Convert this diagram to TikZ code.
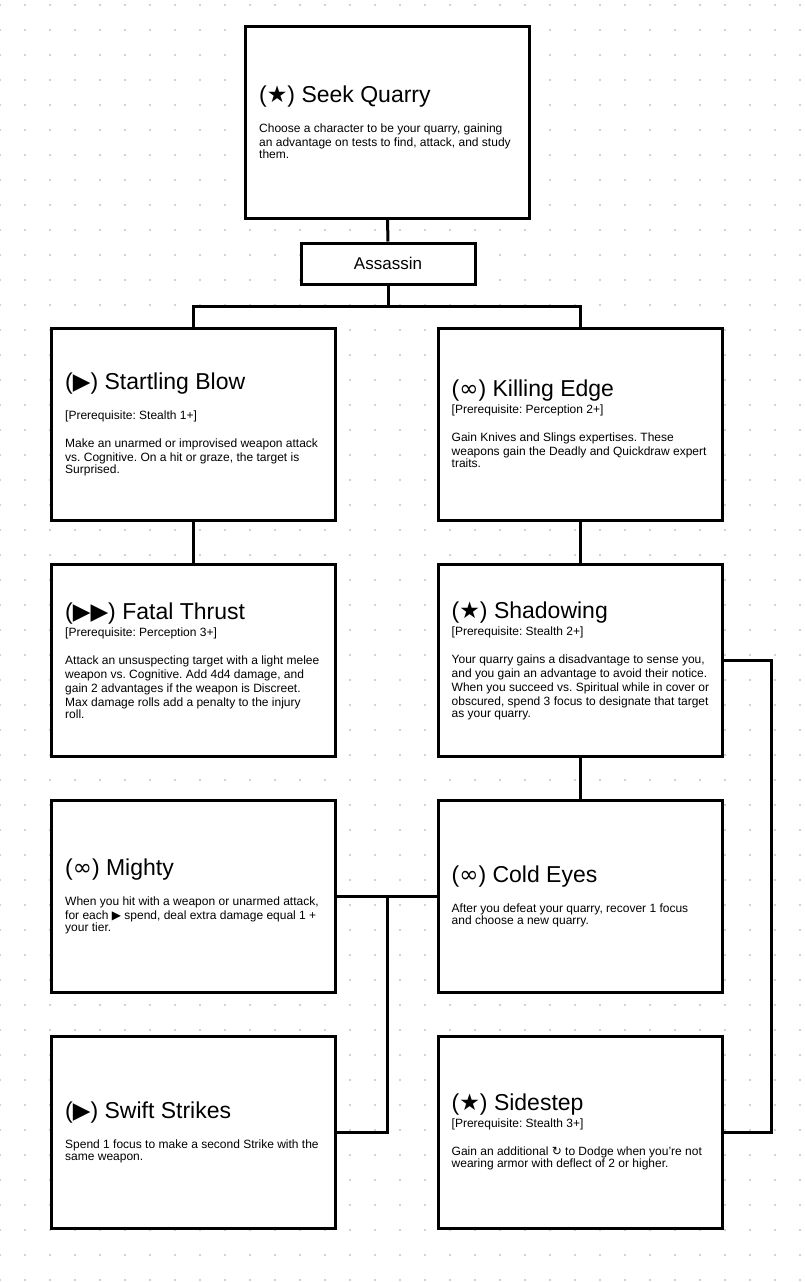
\documentclass[tikz,border=0pt]{standalone}
\usepackage{fontspec}
\setmainfont{Liberation Sans}
\newfontfamily\symf{DejaVu Sans}
\newcommand{\Star}{{\symf ★}}
\newcommand{\Act}{{\symf ▶}}
\newcommand{\Inf}{{\symf ∞}}
\newcommand{\Rx}{{\symf ↻}}
\newcommand{\ttl}[1]{{\fontsize{23}{27}\selectfont\spaceskip=0pt\xspaceskip=0pt #1\par}}
\newcommand{\bdy}{\fontsize{12}{14}\selectfont\spaceskip=0pt\xspaceskip=0pt\frenchspacing}
\setlength{\parskip}{0pt}
\begin{document}
\lineskiplimit=-100pt
\begin{tikzpicture}[x=1pt,y=-1pt,
  card/.style={draw=black, line width=3pt, fill=white, minimum width=284pt,
    minimum height=192pt, inner sep=0pt, anchor=center},
  txt/.style={text width=290pt, inner sep=0pt, align=left, anchor=west},
  tag/.style={draw=black, line width=3pt, fill=white, minimum width=174pt,
    minimum height=41pt, inner sep=0pt, font=\fontsize{17}{20}\selectfont},
  link/.style={draw=black, line width=3pt},
  dotc/.style={fill=black!24}]
\fill[white] (0,0) rectangle (804,1282);
\useasboundingbox (0,0) rectangle (804,1282);
\foreach \x in {0,25,...,800} {
  \foreach \y in {5,30,...,1280} {
    \fill[dotc] (\x,\y) circle (1.2pt);
  }
}
\coordinate (barmid) at (388,306);
\coordinate (jn) at (387,896);
\coordinate (rt) at (771,660.5);

\node[card] (sq) at (387.5,122) {};
\node[txt] (sqt) at ([xshift=15pt]sq.west) {\ttl{(\Star) Seek Quarry}\vspace{16pt}\bdy
Choose a character to be your quarry, gaining\\
an advantage on tests to find, attack, and study\\
them.};
\node[tag] (as) at (388,263.5) {Assassin};

\node[card] (sb) at (193.5,424) {};
\node[txt] (sbt) at ([xshift=15pt]sb.west) {\ttl{(\Act) Startling Blow}\vspace{16pt}\bdy
[Prerequisite: Stealth 1+]\par\vspace{14pt}
Make an unarmed or improvised weapon attack\\
vs. Cognitive. On a hit or graze, the target is\\
Surprised.};

\node[card] (ke) at (580,424) {};
\node[txt] (ket) at ([xshift=15pt]ke.west) {\ttl{(\Inf) Killing Edge}\vspace{3pt}\bdy
[Prerequisite: Perception 2+]\par\vspace{14pt}
Gain Knives and Slings expertises. These\\
weapons gain the Deadly and Quickdraw expert\\
traits.};

\node[card] (ft) at (193.5,660.5) {};
\node[txt] (ftt) at ([xshift=15pt]ft.west) {\ttl{(\Act\Act) Fatal Thrust}\vspace{3pt}\bdy
[Prerequisite: Perception 3+]\par\vspace{14pt}
Attack an unsuspecting target with a light melee\\
weapon vs. Cognitive. Add 4d4 damage, and\\
gain 2 advantages if the weapon is Discreet.\\
Max damage rolls add a penalty to the injury\\
roll.};

\node[card] (sh) at (580,660.5) {};
\node[txt] (sht) at ([xshift=15pt]sh.west) {\ttl{(\Star) Shadowing}\vspace{3pt}\bdy
[Prerequisite: Stealth 2+]\par\vspace{14pt}
Your quarry gains a disadvantage to sense you,\\
and you gain an advantage to avoid their notice.\\
When you succeed vs. Spiritual while in cover or\\
obscured, spend 3 focus to designate that target\\
as your quarry.};

\node[card] (mi) at (193.5,896) {};
\node[txt] (mit) at ([xshift=15pt]mi.west) {\ttl{(\Inf) Mighty}\vspace{16pt}\bdy
When you hit with a weapon or unarmed attack,\\
for each \Act{} spend, deal extra damage equal 1 +\\
your tier.};

\node[card] (ce) at (580,896) {};
\node[txt] (cet) at ([xshift=15pt]ce.west) {\ttl{(\Inf) Cold Eyes}\vspace{16pt}\bdy
After you defeat your quarry, recover 1 focus\\
and choose a new quarry.};

\node[card] (ss) at (193.5,1132) {};
\node[txt] (sst) at ([xshift=15pt]ss.west) {\ttl{(\Act) Swift Strikes}\vspace{16pt}\bdy
Spend 1 focus to make a second Strike with the\\
same weapon.};

\node[card] (sd) at (580,1132) {};
\node[txt] (sdt) at ([xshift=15pt]sd.west) {\ttl{(\Star) Sidestep}\vspace{3pt}\bdy
[Prerequisite: Stealth 3+]\par\vspace{14pt}
Gain an additional \Rx{} to Dodge when you're not\\
wearing armor with deflect of 2 or higher.};

\draw[link] (sq.south) -- (as.north);
\draw[link] (as.south) -- (barmid);
\draw[link] (sb.north) |- (barmid) -| (ke.north);
\draw[link] (sb.south) -- (ft.north);
\draw[link] (ke.south) -- (sh.north);
\draw[link] (sh.south) -- (ce.north);
\draw[link] (mi.east) -- (ce.west);
\draw[link] (jn) |- (ss.east);
\draw[link] (sh.east) -- (rt) |- (sd.east);
\end{tikzpicture}
\end{document}
